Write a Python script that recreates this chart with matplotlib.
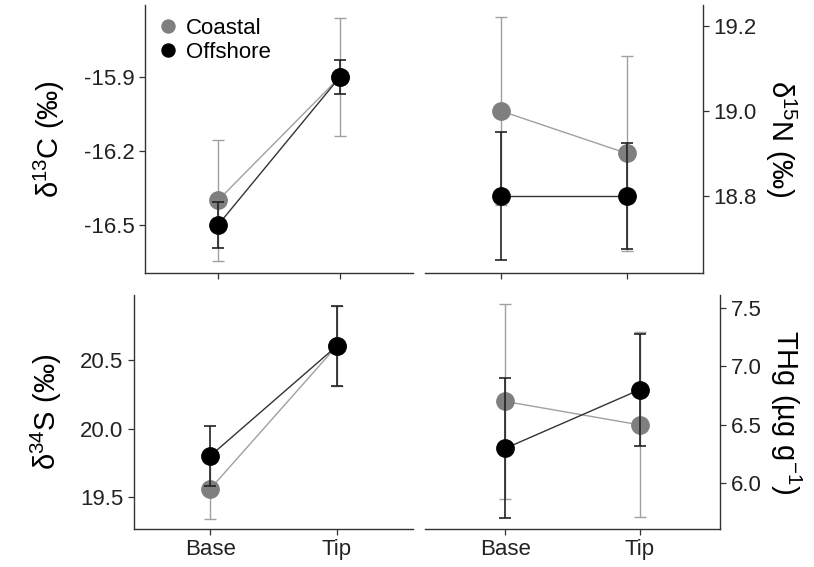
import numpy as np
import matplotlib
matplotlib.use('Agg')
import matplotlib.pyplot as plt

plt.rcParams['font.family'] = ['Liberation Sans', 'DejaVu Sans']
plt.rcParams['mathtext.fontset'] = 'custom'
plt.rcParams['mathtext.rm'] = 'Liberation Sans'
plt.rcParams['mathtext.it'] = 'Liberation Sans'
plt.rcParams['axes.unicode_minus'] = False

SECTIONS = ['Base', 'Tip']
POSITIONS = [1, 2]

C13_COASTAL = [-16.40, -15.90]
C13_COASTAL_ERR = [0.245, 0.24]
C13_OFFSHORE = [-16.50, -15.90]
C13_OFFSHORE_ERR = [0.093, 0.07]

N15_COASTAL = [19.00, 18.90]
N15_COASTAL_ERR = [0.22, 0.23]
N15_OFFSHORE = [18.80, 18.80]
N15_OFFSHORE_ERR = [0.15, 0.125]

S34_COASTAL = [19.56, 20.60]
S34_COASTAL_ERR = [0.22, 0.29]
S34_OFFSHORE = [19.80, 20.60]
S34_OFFSHORE_ERR = [0.22, 0.29]

THG_COASTAL = [6.70, 6.50]
THG_COASTAL_ERR = [0.83, 0.79]
THG_OFFSHORE = [6.30, 6.80]
THG_OFFSHORE_ERR = [0.60, 0.48]

COASTAL_COLOR = '#7f7f7f'
COASTAL_ERR_COLOR = '#a0a0a0'
OFFSHORE_COLOR = '#000000'
OFFSHORE_ERR_COLOR = '#222222'
AXIS_COLOR = '#333333'


def draw_panel(ax, coastal, coastal_err, offshore, offshore_err, ylim, yticks, ylabel, right=False, xlabels=True):
    ax.errorbar(POSITIONS, coastal, yerr=coastal_err, fmt='none', ecolor=COASTAL_ERR_COLOR,
                elinewidth=1.0, capsize=4.5, capthick=1.0, zorder=2)
    ax.plot(POSITIONS, coastal, color=COASTAL_ERR_COLOR, lw=1.0, zorder=2)
    ax.plot(POSITIONS, coastal, 'o', color=COASTAL_COLOR, ms=12.5, mec=COASTAL_COLOR, zorder=3,
            label='Coastal')
    ax.errorbar(POSITIONS, offshore, yerr=offshore_err, fmt='none', ecolor=OFFSHORE_ERR_COLOR,
                elinewidth=1.2, capsize=4.5, capthick=1.2, zorder=4)
    ax.plot(POSITIONS, offshore, color='#333333', lw=1.0, zorder=4)
    ax.plot(POSITIONS, offshore, 'o', color=OFFSHORE_COLOR, ms=12.5, zorder=5, label='Offshore')
    ax.set_xlim(0.4, 2.6)
    ax.set_ylim(*ylim)
    ax.set_xticks(POSITIONS)
    ax.set_xticklabels(SECTIONS if xlabels else [])
    ax.set_yticks(yticks)
    ax.yaxis.set_major_formatter(matplotlib.ticker.FormatStrFormatter('%.1f'))
    ax.tick_params(colors=AXIS_COLOR, labelcolor='#222222', labelsize=16, length=4, width=0.9)
    ax.spines['top'].set_visible(False)
    for side in ['left', 'right', 'bottom']:
        ax.spines[side].set_color(AXIS_COLOR)
        ax.spines[side].set_linewidth(1.0)
    if right:
        ax.spines['left'].set_visible(False)
        ax.yaxis.tick_right()
        ax.yaxis.set_label_position('right')
        ax.set_ylabel(ylabel, fontsize=21, rotation=270, labelpad=30)
    else:
        ax.spines['right'].set_visible(False)
        ax.set_ylabel(ylabel, fontsize=21, labelpad=12)


W, H = 814, 567
fig = plt.figure(figsize=(W / 100, H / 100), dpi=100)


def px_axes(x0, y0, x1, y1):
    return fig.add_axes([x0 / W, 1 - y1 / H, (x1 - x0) / W, (y1 - y0) / H])


ax_c = px_axes(145, 5, 413, 273)
ax_n = px_axes(425, 5, 703, 273)
ax_s = px_axes(134, 295, 413, 529)
ax_h = px_axes(425, 295, 720, 529)

draw_panel(ax_c, C13_COASTAL, C13_COASTAL_ERR, C13_OFFSHORE, C13_OFFSHORE_ERR,
           (-16.695, -15.608), [-16.5, -16.2, -15.9], r'δ$^{13}$C (‰)', xlabels=False)
draw_panel(ax_n, N15_COASTAL, N15_COASTAL_ERR, N15_OFFSHORE, N15_OFFSHORE_ERR,
           (18.619, 19.249), [18.8, 19.0, 19.2], r'δ$^{15}$N (‰)', right=True, xlabels=False)
draw_panel(ax_s, S34_COASTAL, S34_COASTAL_ERR, S34_OFFSHORE, S34_OFFSHORE_ERR,
           (19.27, 20.97), [19.5, 20.0, 20.5], r'δ$^{34}$S (‰)')
draw_panel(ax_h, THG_COASTAL, THG_COASTAL_ERR, THG_OFFSHORE, THG_OFFSHORE_ERR,
           (5.61, 7.61), [6.0, 6.5, 7.0, 7.5], r'THg (µg g$^{-1}$)', right=True)

ax_c.legend(loc='upper left', bbox_to_anchor=(0.0, 0.985), frameon=False, fontsize=16,
            handletextpad=0.15, labelspacing=0.12, borderaxespad=0.0, markerscale=0.75,
            handlelength=1.3)

fig.savefig('out.png', dpi=100)
